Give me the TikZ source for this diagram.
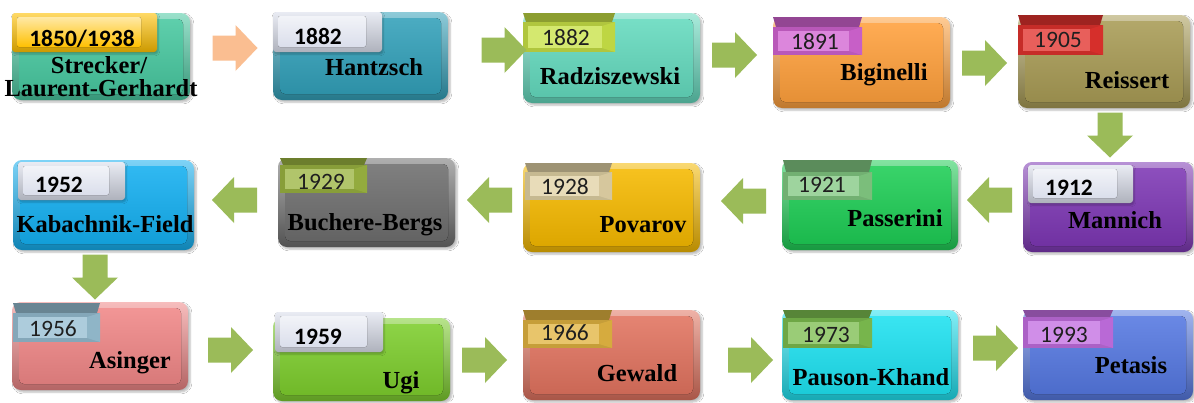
\documentclass[tikz,border=0pt]{standalone}
\usepackage{fontspec}
\setmainfont{Liberation Serif}
\newfontfamily\namefont{Liberation Serif}
\newfontfamily\yearfont{Carlito}
\usetikzlibrary{fit,shadows.blur}
\definecolor{cMint}{RGB}{72,200,160}
\definecolor{cGold}{RGB}{255,192,0}
\definecolor{cHan}{RGB}{50,160,185}
\definecolor{cRad}{RGB}{100,218,190}
\definecolor{cLime}{RGB}{200,225,70}
\definecolor{cBig}{RGB}{255,160,60}
\definecolor{cMag}{RGB}{210,100,210}
\definecolor{cRei}{RGB}{168,155,85}
\definecolor{cRed}{RGB}{225,50,45}
\definecolor{cMan}{RGB}{125,55,180}
\definecolor{cPas}{RGB}{30,205,85}
\definecolor{cPasL}{RGB}{130,200,130}
\definecolor{cPov}{RGB}{245,185,0}
\definecolor{cBeige}{RGB}{225,210,165}
\definecolor{cBuc}{RGB}{110,110,110}
\definecolor{cOlv}{RGB}{155,180,65}
\definecolor{cKab}{RGB}{20,175,240}
\definecolor{cAsi}{RGB}{240,135,135}
\definecolor{cSteel}{RGB}{150,190,210}
\definecolor{cUgi}{RGB}{125,205,45}
\definecolor{cGew}{RGB}{225,115,95}
\definecolor{cGoldL}{RGB}{225,180,65}
\definecolor{cPau}{RGB}{30,225,240}
\definecolor{cPauL}{RGB}{125,190,80}
\definecolor{cPet}{RGB}{85,120,225}
\definecolor{cVio}{RGB}{195,110,225}
\definecolor{cArrow}{RGB}{155,187,89}
\definecolor{cPeach}{RGB}{250,190,145}
\definecolor{cWhiteL}{RGB}{218,222,235}
\tikzset{
  mainbox/.style={rounded corners=9pt, inner sep=0pt, outer sep=0pt,
    blur shadow={shadow xshift=2pt, shadow yshift=-2pt, shadow blur steps=6, shadow opacity=28}},
  labbody/.style={inner sep=0pt, outer sep=0pt},
  nametext/.style={font=\namefont\fontsize{24.5}{26}\selectfont\bfseries, anchor=base, inner sep=0pt, text=black},
  yeartext/.style={font=\yearfont\fontsize{23.5}{25}\selectfont, anchor=base, inner sep=0pt, text=black!88},
  yearbold/.style={yeartext, font=\yearfont\fontsize{23.5}{25}\selectfont\bfseries, text=black},
  blockarrow/.pic={\fill[pic actions] (-22.5,-12.5) -- (0.5,-12.5) -- (0.5,-23) -- (22.5,0) -- (0.5,23) -- (0.5,12.5) -- (-22.5,12.5) -- cycle;}
}
% main box: name, x1, y1, x2, y2, colour
\newcommand\rxbox[6]{%
  \node[mainbox, fit={(#2,#3) (#4,#5)}, top color=#6!55!white, bottom color=#6!75!black] (#1) {};
  \fill[rounded corners=5pt, top color=#6!88!white, bottom color=#6!90!black]
    ([shift={(7,6)}]#1.north west) rectangle ([shift={(-7,-6)}]#1.south east);
}
% banded label: name, x1, yband, ybody, x2, y2, colour
\newcommand\yrlab[7]{%
  \fill[#7!70!black] (#2,#3) -- (#5,#3) -- (#5-3,#4) -- (#2+3,#4) -- cycle;
  \node[labbody, fit={(#2,#4) (#5,#6)}, fill=#7!88!black] (#1) {};
  \fill[#7!78!white] ([shift={(5,4)}]#1.north west) -- ([shift={(-13,4)}]#1.north east) -- ([shift={(-13,-4)}]#1.south east) -- ([shift={(5,-4)}]#1.south west) -- cycle;
  \fill[#7!95!black] ([shift={(-13,4)}]#1.north east) -- (#1.north east) -- (#1.south east) -- ([shift={(-13,-4)}]#1.south east) -- cycle;
}
% glossy label without band: name, x1, y1, x2, y2, colour
\newcommand\gllab[6]{%
  \node[labbody, fit={(#2,#3) (#4,#5)}, rounded corners=3pt, top color=#6!60!white, bottom color=#6!80!black,
    blur shadow={shadow xshift=1pt, shadow yshift=-2pt, shadow blur steps=4, shadow opacity=25}] (#1) {};
  \fill[rounded corners=2pt, top color=#6!35!white, bottom color=#6] ([shift={(5,4)}]#1.north west) rectangle ([shift={(-16,-5)}]#1.south east);
}
\begin{document}
\begin{tikzpicture}[x=1pt,y=-1pt]
\useasboundingbox[fill=white] (0,0) rectangle (1194,402);
% ---------- row 1 ----------
\rxbox{b1}{12}{13}{190}{100}{cMint}
\gllab{l1}{12}{13}{157}{52}{cGold}
\node[yearbold] (y1) at (82,46) {1850/1938};
\node[nametext] (n1a) at (99,73) {Strecker/};
\node[nametext] (n1b) at (101,96) {Laurent-Gerhardt};

\rxbox{b2}{273}{12}{448}{100}{cHan}
\gllab{l2}{273}{12}{382}{52}{cWhiteL}
\node[yearbold] (y2) at (318,44) {1882};
\node[nametext] (n2) at (374,75) {Hantzsch};

\rxbox{b3}{523}{13}{700}{103}{cRad}
\yrlab{l3}{523}{13}{22}{615}{52}{cLime}
\node[yeartext] (y3) at (566,45) {1882};
\node[nametext] (n3) at (610,84) {Radziszewski};

\rxbox{b4}{773}{17}{950}{108}{cBig}
\yrlab{l4}{773}{17}{27}{862}{55}{cMag}
\node[yeartext] (y4) at (815,49) {1891};
\node[nametext] (n4) at (884,80) {Biginelli};

\rxbox{b5}{1018}{15}{1190}{108}{cRei}
\yrlab{l5}{1018}{15}{25}{1103}{55}{cRed}
\node[yeartext] (y5) at (1058,47) {1905};
\node[nametext] (n5) at (1127,88) {Reissert};

% ---------- row 2 ----------
\rxbox{b6}{1023}{162}{1193}{252}{cMan}
\gllab{l6}{1028}{165}{1133}{203}{cWhiteL}
\node[yearbold] (y6) at (1069,195) {1912};
\node[nametext] (n6) at (1115,228) {Mannich};

\rxbox{b7}{782}{160}{958}{250}{cPas}
\yrlab{l7}{783}{160}{172}{872}{200}{cPasL}
\node[yeartext] (y7) at (822,192) {1921};
\node[nametext] (n7) at (895,226) {Passerini};

\rxbox{b8}{523}{163}{700}{252}{cPov}
\yrlab{l8}{525}{163}{172}{612}{200}{cBeige}
\node[yeartext] (y8) at (565,194) {1928};
\node[nametext] (n8) at (643,232) {Povarov};

\rxbox{b9}{278}{158}{455}{247}{cBuc}
\yrlab{l9}{280}{158}{165}{367}{193}{cOlv}
\node[yeartext] (y9) at (321,189) {1929};
\node[nametext] (n9) at (365,230) {Buchere-Bergs};

\rxbox{b10}{13}{160}{194}{250}{cKab}
\gllab{l10}{18}{162}{125}{200}{cWhiteL}
\node[yearbold] (y10) at (59,192) {1952};
\node[nametext] (n10) at (105,232) {Kabachnik-Field};

% ---------- row 3 ----------
\rxbox{b11}{12}{302}{188}{390}{cAsi}
\yrlab{l11}{13}{303}{313}{100}{342}{cSteel}
\node[yeartext] (y11) at (53,336) {1956};
\node[nametext] (n11) at (130,368) {Asinger};

\rxbox{b12}{273}{318}{450}{401}{cUgi}
\gllab{l12}{275}{312}{383}{352}{cWhiteL}
\node[yearbold] (y12) at (318,344) {1959};
\node[nametext] (n12) at (401,388) {Ugi};

\rxbox{b13}{523}{310}{700}{400}{cGew}
\yrlab{l13}{523}{310}{320}{612}{348}{cGoldL}
\node[yeartext] (y13) at (565,340) {1966};
\node[nametext] (n13) at (637,381) {Gewald};

\rxbox{b14}{782}{310}{958}{400}{cPau}
\yrlab{l14}{783}{310}{318}{872}{348}{cPauL}
\node[yeartext] (y14) at (826,342) {1973};
\node[nametext] (n14) at (871,385) {Pauson-Khand};

\rxbox{b15}{1023}{310}{1193}{400}{cPet}
\yrlab{l15}{1023}{310}{317}{1113}{348}{cVio}
\node[yeartext] (y15) at (1064,342) {1993};
\node[nametext] (n15) at (1131,373) {Petasis};

% ---------- arrows ----------
\pic[fill=cPeach] (a1) at (235,48) {blockarrow};
\pic[fill=cArrow] (a2) at (504,50) {blockarrow};
\pic[fill=cArrow] (a3) at (734.5,55) {blockarrow};
\pic[fill=cArrow] (a4) at (984.5,63) {blockarrow};
\pic[fill=cArrow, rotate=-90] (a5) at (1110,135) {blockarrow};
\pic[fill=cArrow, rotate=180] (a6) at (989.5,200) {blockarrow};
\pic[fill=cArrow, rotate=180] (a7) at (743.5,201) {blockarrow};
\pic[fill=cArrow, rotate=180] (a8) at (489.5,200) {blockarrow};
\pic[fill=cArrow, rotate=180] (a9) at (234.5,200) {blockarrow};
\pic[fill=cArrow, rotate=-90] (a10) at (95,277) {blockarrow};
\pic[fill=cArrow] (a11) at (230.5,350) {blockarrow};
\pic[fill=cArrow] (a12) at (484.5,360) {blockarrow};
\pic[fill=cArrow] (a13) at (750.5,360) {blockarrow};
\pic[fill=cArrow] (a14) at (995.5,348) {blockarrow};
\end{tikzpicture}
\end{document}
